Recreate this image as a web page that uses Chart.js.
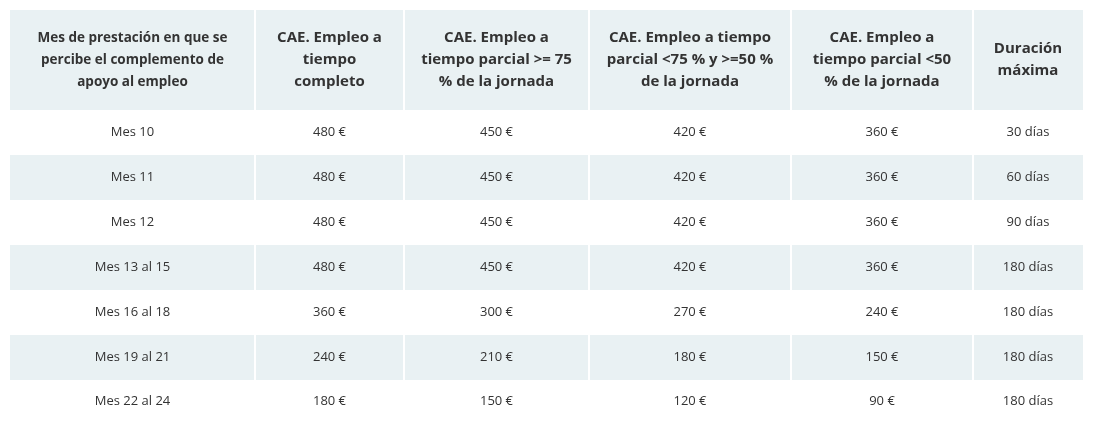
<!DOCTYPE html>
<html><head><meta charset="utf-8">
<script src="https://cdn.jsdelivr.net/npm/chart.js@4"></script>
<style>html,body{margin:0;padding:0;background:#fff}canvas{display:block}</style>
</head><body>
<canvas id="c" width="1093" height="422"></canvas>
<script>
// Data
const headers = [
  ["Mes de prestación en que se","percibe el complemento de","apoyo al empleo"],
  ["CAE. Empleo a","tiempo","completo"],
  ["CAE. Empleo a","tiempo parcial >= 75","% de la jornada"],
  ["CAE. Empleo a tiempo","parcial <75 % y >=50 %","de la jornada"],
  ["CAE. Empleo a","tiempo parcial <50","% de la jornada"],
  ["Duración","máxima"]
];
const months = ["Mes 10","Mes 11","Mes 12","Mes 13 al 15","Mes 16 al 18","Mes 19 al 21","Mes 22 al 24"];
const fullTime = [480,480,480,480,360,240,180];
const part75 = [450,450,450,450,300,210,150];
const part50 = [420,420,420,420,270,180,120];
const partLt50 = [360,360,360,360,240,150,90];
const duration = ["30 días","60 días","90 días","180 días","180 días","180 días","180 días"];

// Layout (scale units)
const colEdges = [10,255,404,589,791,973,1083];
const rowEdges = [10,110,155,200,245,290,335,380,422];
const shade = "#e9f1f3", textCol = "#333", gap = 2;

const cols = [months, fullTime.map(v=>v+" €"), part75.map(v=>v+" €"), part50.map(v=>v+" €"), partLt50.map(v=>v+" €"), duration];

const tablePlugin = {
  id:'table',
  afterDraw(chart){
    const ctx = chart.ctx, xs = chart.scales.x, ys = chart.scales.y;
    const X = v=>xs.getPixelForValue(v), Y = v=>ys.getPixelForValue(v);
    ctx.save();
    for(let r=0;r<rowEdges.length-1;r++){
      if(r%2===0){
        for(let c=0;c<colEdges.length-1;c++){
          const x0=X(colEdges[c])+(c?gap/2:0), x1=X(colEdges[c+1])-(c<colEdges.length-2?gap/2:0);
          ctx.fillStyle=shade;
          ctx.fillRect(x0,Y(rowEdges[r]),x1-x0,Y(rowEdges[r+1])-Y(rowEdges[r]));
        }
      }
    }
    ctx.fillStyle=textCol; ctx.textAlign='center'; ctx.textBaseline='middle';
    // headers
    headers.forEach((lines,c)=>{
      const cx=(X(colEdges[c])+X(colEdges[c+1]))/2, cy=(Y(rowEdges[0])+Y(rowEdges[1]))/2;
      const fs = c===0?13.5:15, lh = c===0?22:22;
      ctx.font=`bold ${fs}px "Open Sans"`;
      lines.forEach((t,i)=>ctx.fillText(t,cx,cy+(i-(lines.length-1)/2)*lh));
    });
    ctx.font='13px "Open Sans"';
    cols.forEach((arr,c)=>{
      const cx=(X(colEdges[c])+X(colEdges[c+1]))/2;
      arr.forEach((t,r)=>{
        const cy=(Y(rowEdges[r+1])+Y(rowEdges[r+2]))/2;
        ctx.fillText(t,cx,cy);
      });
    });
    ctx.restore();
  }
};

new Chart(document.getElementById('c'),{
  type:'scatter',
  data:{datasets:[{data:[]}]},
  options:{
    responsive:false, animation:false,
    layout:{padding:0},
    plugins:{legend:{display:false},tooltip:{enabled:false}},
    scales:{
      x:{type:'linear',min:0,max:1093,display:false},
      y:{type:'linear',min:0,max:422,reverse:true,display:false}
    }
  },
  plugins:[tablePlugin]
});
</script>
</body></html>
